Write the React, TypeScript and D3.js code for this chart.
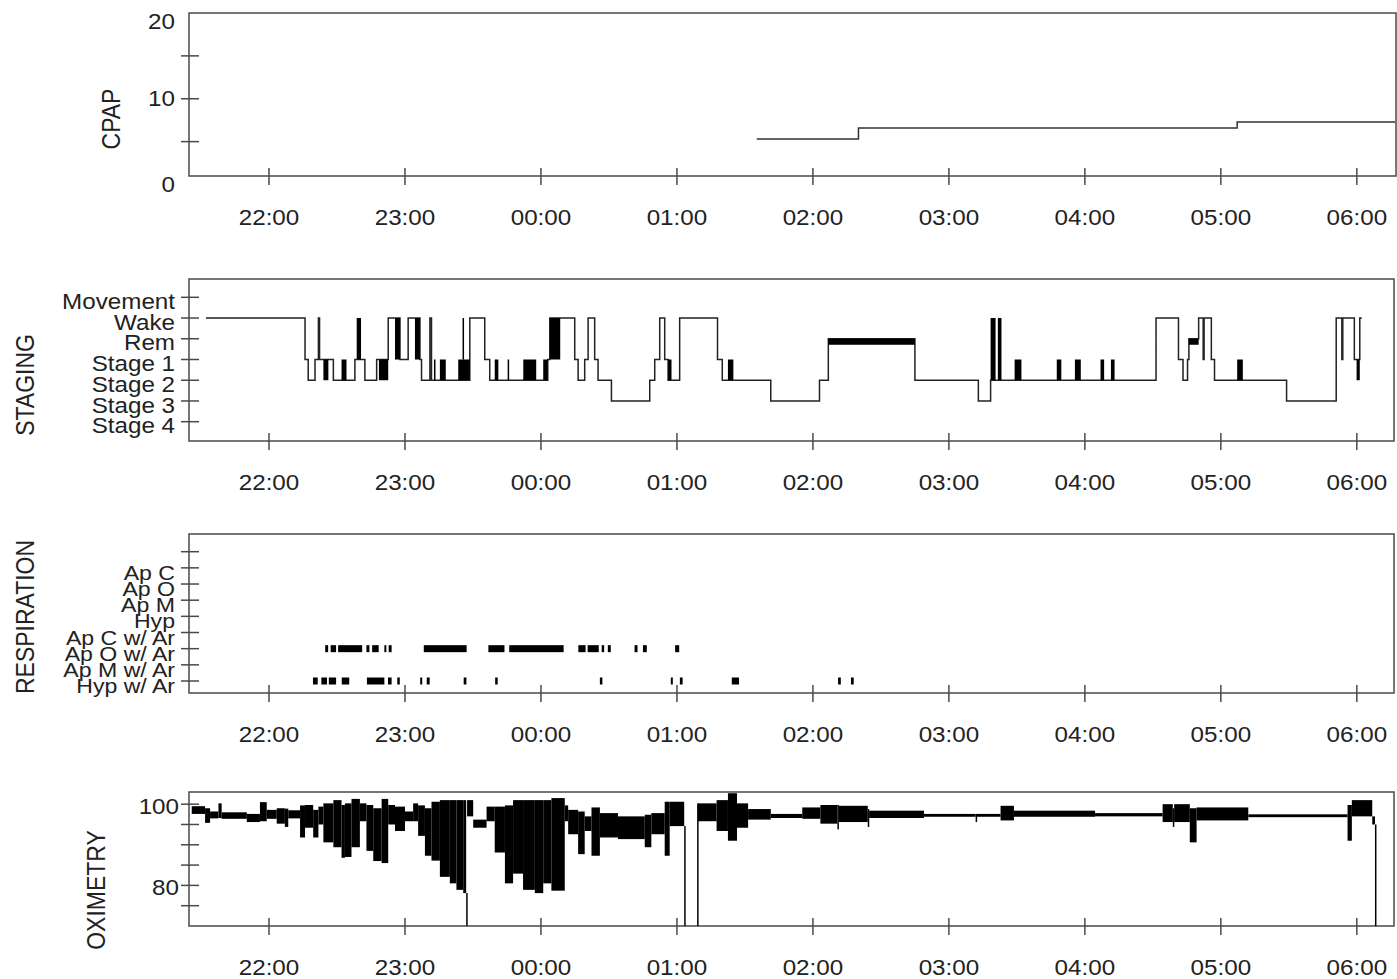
import React from 'react';
import * as d3 from 'd3';

// all times are minutes after 21:00
const startMin = 24.7;
const endMin = 556.4;

// CPAP pressure steps
const cpapTime = [275.2, 320.1, 487.2, 556.9];
const cpapValue = [5.3, 6.6, 7.3, 7.3];
const cpapTicks = [5, 10, 15];
const cpapLabels = [0, 10, 20];

// sleep staging
const stageNames = ['Movement', 'Wake', 'Rem', 'Stage 1', 'Stage 2', 'Stage 3', 'Stage 4'];
const stageTime = [
  32.2, 75.9, 77.3, 80.3, 81.8, 82.3, 88.4, 97.9, 102.3, 107.5, 112.6, 117.8, 121.4, 126.6, 127.3,
  131.0, 131.7, 148.6, 155.2, 157.4, 183.0, 183.9, 194.9, 196.4, 199.3, 200.8, 203.7, 205.2, 211.1,
  228.0, 230.2, 232.4, 234.6, 236.1, 241.2, 257.9, 260.0, 281.4, 302.9, 306.8, 345.0, 373.0, 378.4,
  451.4, 461.3, 463.3, 465.3, 465.9, 470.2, 472.2, 472.6, 475.8, 477.2, 509.0, 530.9, 533.4, 533.8,
  538.9, 541.3, 542.2,
];
const stageValue = [
  'Wake', 'Stage 1', 'Stage 2', 'Stage 1', 'Wake', 'Stage 1', 'Stage 2', 'Stage 1', 'Stage 2', 'Stage 1', 'Wake', 'Stage 1', 'Wake', 'Stage 1', 'Stage 2',
  'Wake', 'Stage 2', 'Wake', 'Stage 1', 'Stage 2', 'Stage 1', 'Wake', 'Stage 1', 'Stage 2', 'Stage 1', 'Wake', 'Stage 1', 'Stage 2', 'Stage 3',
  'Stage 2', 'Stage 1', 'Wake', 'Stage 1', 'Stage 2', 'Wake', 'Stage 1', 'Stage 2', 'Stage 3', 'Stage 2', 'Rem', 'Stage 2', 'Stage 3', 'Stage 2',
  'Wake', 'Stage 1', 'Stage 2', 'Stage 1', 'Rem', 'Wake', 'Stage 1', 'Wake', 'Stage 1', 'Stage 2', 'Stage 3', 'Wake', 'Stage 1', 'Wake',
  'Stage 1', 'Wake', 'Wake',
];
// fragmented stretches where the stage flips between two levels every epoch
const fragStart = [84.0, 92.0, 98.7, 108.5, 115.6, 124.4, 132.8, 135.4, 143.5, 145.4, 159.6, 165.3, 172.2, 181.0, 183.9, 236.1, 262.5, 306.8, 378.4, 381.6, 389.0, 407.6, 415.6, 426.9, 431.5, 465.9, 487.2, 539.9];
const fragEnd = [86.2, 94.2, 100.6, 112.6, 117.8, 126.6, 133.4, 138.0, 148.6, 145.9, 161.2, 165.9, 177.9, 183.0, 188.5, 237.6, 264.9, 345.0, 380.6, 383.2, 392.0, 409.6, 418.2, 428.5, 433.1, 470.2, 489.7, 541.3];
const fragTop = ['Stage 1', 'Stage 1', 'Wake', 'Stage 1', 'Wake', 'Wake', 'Stage 1', 'Stage 1', 'Stage 1', 'Wake', 'Stage 1', 'Stage 1', 'Stage 1', 'Stage 1', 'Wake', 'Stage 1', 'Stage 1', 'Rem', 'Wake', 'Wake', 'Stage 1', 'Stage 1', 'Stage 1', 'Stage 1', 'Stage 1', 'Rem', 'Stage 1', 'Stage 1'];
const fragBottom = ['Stage 2', 'Stage 2', 'Stage 1', 'Stage 2', 'Stage 1', 'Stage 1', 'Stage 2', 'Stage 2', 'Stage 2', 'Stage 1', 'Stage 2', 'Stage 2', 'Stage 2', 'Stage 2', 'Stage 1', 'Stage 2', 'Stage 2', 'Rem', 'Stage 2', 'Stage 2', 'Stage 2', 'Stage 2', 'Stage 2', 'Stage 2', 'Stage 2', 'Rem', 'Stage 2', 'Stage 2'];

// respiration events
const respNames = ['', 'Ap C', 'Ap O', 'Ap M', 'Hyp', 'Ap C w/ Ar', 'Ap O w/ Ar', 'Ap M w/ Ar', 'Hyp w/ Ar'];
const apOArStart = [84.8, 87.2, 90.5, 103.0, 105.5, 110.9, 112.8, 128.3, 156.8, 166.0, 196.5, 200.6, 206.8, 209.5, 221.3, 225.0, 239.2];
const apOArEnd = [86.1, 89.6, 101.1, 104.3, 108.4, 111.7, 114.1, 147.2, 163.9, 190.0, 199.7, 205.5, 207.9, 210.8, 222.6, 226.7, 241.0];
const hypArStart = [79.4, 83.1, 86.4, 92.1, 103.2, 112.5, 116.6, 126.7, 129.6, 145.9, 159.8, 206.0, 237.3, 241.3, 264.2, 311.1, 316.8];
const hypArEnd = [81.5, 85.6, 89.6, 95.4, 110.9, 114.1, 117.7, 127.6, 130.9, 147.1, 160.9, 207.1, 238.1, 242.5, 267.4, 312.3, 318.0];

// oximetry: per stretch, lowest and highest SpO2 of the trace (null = no signal)
const oxiTime = [
  25.9, 31.8, 34, 37.7, 39.1, 50.2, 56, 59, 63.4, 67, 68.5, 73.7, 75.9, 79.5, 81.8, 84, 88.4, 92, 93.5, 96.4,
  100.1, 103, 106, 109.7, 112.6, 115.6, 120, 123.6, 125.8, 128.8, 131.7, 135.4, 139.8, 142.7, 145.7, 147.0, 147.4,
  150.1, 156, 159.6, 164.1, 167.7, 172.1, 177.3, 181, 184.6, 190.5, 192, 196.4, 199.3, 202.3, 206, 214, 225.8,
  228.7, 234.6, 236.8, 243.2, 243.6, 248.9, 249.3, 257.5, 262.5, 266.5, 271.4, 281.4, 295.3, 303.3, 310.8, 311.4,
  324.2, 324.8, 349, 371.8, 372.4, 382.8, 388.7, 424.5, 454.3, 458.8, 459.4, 466.3, 469.3, 492.1, 535.9, 537.8,
  546.8, 548.0, 548.4,
];
const oxiLow = [
  97.6, 95.4, 96.5, 96.6, 96.4, 95.6, 95.8, 96.4, 95.2, 94.4, 96.5, 91.8, 94.2, 91.8, 95, 90.6, 89.4, 86.8, 87, 89.4,
  95.8, 88.5, 86, 85.5, 95, 93.4, 95.8, 95.8, 92.2, 87.3, 86.1, 82.1, 80.5, 78.9, 78.1, 70, 97,
  94.2, 95.8, 88.1, 80.5, 82.9, 78.9, 78.1, 80.5, 78.7, 95.8, 92.6, 87.7, 93.4, 87.3, 91.8, 91.4, 89.4,
  92.6, 87.3, 94.6, 70, null, 70, 95.8, 93.4, 91, 94.2, 96.2, 96.6, 96.4, 95.2, 93.8, 95.6,
  94.4, 96.6, 96.9, 95.6, 96.9, 96, 96.9, 97.0, 95.6, 94.4, 95.6, 90.6, 96, 96.8, 91, 97,
  95, 70,
];
const oxiHigh = [
  99.5, 99, 98.2, 100.2, 98.0, 97.6, 100.5, 98.6, 99, 98.9, 98.5, 99.7, 99.8, 98.6, 99.4, 100.2, 101, 99.8, 100.2, 101.3,
  100.2, 99.8, 99, 101.3, 99.8, 99.4, 98.2, 100.2, 99.7, 99, 100.6, 101, 101, 101, 101, 78.1, 101,
  96.2, 99.4, 99.4, 99.7, 101, 101, 101, 101, 101.5, 99.7, 98.6, 98.2, 97, 99.2, 97.8, 97, 97.4,
  97.8, 100.6, 100.6, 94.6, null, 100.2, 100.2, 101, 102.7, 100.2, 98.8, 97.6, 99.2, 99.8, 99.8, 99.6,
  98.8, 98.4, 97.6, 97.6, 97.6, 99.6, 98.4, 97.8, 100, 99, 100, 99, 99.2, 97.5, 99.8, 101,
  97, 95,
];
const oxiTicks = [75, 80, 85, 90, 95, 100];
const oxiLabels = [80, 100];

const FONT = '"Liberation Sans", Arial, Helvetica, sans-serif';
const INK = '#222';
const FRAME = '#4a4a4a';
const LEFT = 189;

const base = new Date(2000, 0, 1, 21, 0);
const toDate = (m: number) => new Date(base.getTime() + m * 60000);

const x = d3.scaleTime().domain([toDate(startMin), toDate(endMin)]).range([LEFT, 1394]);
const hours = x.ticks(d3.timeHour.every(1));
const fmt = d3.timeFormat('%H:%M');

const Label = ({ x, y, anchor = 'end', size = 22, children }: any) => (
  <text
    transform={`translate(${x},${y}) scale(1.1,1)`}
    textAnchor={anchor}
    dominantBaseline="central"
    fontSize={size}
    fill={INK}
  >
    {children}
  </text>
);

const Title = ({ x, y, children }: any) => (
  <text
    transform={`translate(${x},${y}) scale(1.1,1) rotate(-90)`}
    textAnchor="middle"
    dominantBaseline="central"
    fontSize={23}
    fill={INK}
  >
    {children}
  </text>
);

const Frame = ({ top, bottom, right = 1394 }: any) => (
  <g>
    <rect x={LEFT} y={top} width={right - LEFT} height={bottom - top} fill="none" stroke={FRAME} strokeWidth={1.5} />
    {hours.map((h, i) => (
      <g key={i}>
        <line x1={x(h)} x2={x(h)} y1={bottom - 8} y2={bottom + 9} stroke={FRAME} strokeWidth={1.5} />
        <Label x={x(h)} y={bottom + 41} anchor="middle">{fmt(h)}</Label>
      </g>
    ))}
  </g>
);

const YTick = ({ y }: any) => (
  <line x1={LEFT - 8} x2={LEFT + 10} y1={y} y2={y} stroke={FRAME} strokeWidth={1.5} />
);

const CpapPanel = () => {
  const top = 13, bottom = 176;
  const y = d3.scaleLinear().domain([0, 20]).range([184.5, 13]);
  const idx = d3.range(cpapTime.length);
  const line = d3.line<number>()
    .x(i => x(toDate(cpapTime[i])))
    .y(i => y(cpapValue[i]))
    .curve(d3.curveStepAfter);
  return (
    <g>
      <Frame top={top} bottom={bottom} right={1396} />
      {cpapTicks.map(t => <YTick key={t} y={y(t)} />)}
      {cpapLabels.map(t => (
        <Label key={t} x={175} y={Math.max(y(t), top + 8)}>{t}</Label>
      ))}
      <path d={line(idx) || ''} fill="none" stroke="#333" strokeWidth={1.5} />
      <Title x={111} y={119}>CPAP</Title>
    </g>
  );
};

const StagingPanel = () => {
  const top = 279, bottom = 441;
  const y = d3.scaleLinear().domain([0, 6]).range([297.3, 421.7]);
  const lvl = (s: string) => y(stageNames.indexOf(s));
  const idx = d3.range(stageTime.length);
  const line = d3.line<number>()
    .x(i => x(toDate(stageTime[i])))
    .y(i => lvl(stageValue[i]))
    .curve(d3.curveStepAfter);
  return (
    <g>
      <Frame top={top} bottom={bottom} />
      {stageNames.map((s, i) => (
        <g key={s}>
          <YTick y={y(i)} />
          <Label x={175} y={y(i) + 4}>{s}</Label>
        </g>
      ))}
      <path d={line(idx) || ''} fill="none" stroke="#222" strokeWidth={1.5} />
      {fragStart.map((s, i) => {
        const y0 = lvl(fragTop[i]);
        const y1 = Math.max(lvl(fragBottom[i]), y0 + 6);
        return (
          <rect key={i} x={x(toDate(s))} y={y0} width={Math.max(1.5, x(toDate(fragEnd[i])) - x(toDate(s)))} height={y1 - y0} fill="#000" />
        );
      })}
      <Title x={25} y={385}>STAGING</Title>
    </g>
  );
};

const RespPanel = () => {
  const top = 534, bottom = 693;
  const y = d3.scaleLinear().domain([0, 8]).range([551.7, 681]);
  const rows = [
    { row: 'Ap O w/ Ar', start: apOArStart, end: apOArEnd },
    { row: 'Hyp w/ Ar', start: hypArStart, end: hypArEnd },
  ];
  return (
    <g>
      <Frame top={top} bottom={bottom} />
      {respNames.map((s, i) => (
        <g key={i}>
          <YTick y={y(i)} />
          {s && <Label x={175} y={y(i) + 5} size={21}>{s}</Label>}
        </g>
      ))}
      {rows.map(r =>
        r.start.map((s, i) => {
          const cy = y(respNames.indexOf(r.row));
          return (
            <rect key={r.row + i} x={x(toDate(s))} y={cy - 3.5} width={Math.max(2, x(toDate(r.end[i])) - x(toDate(s)))} height={7} fill="#000" />
          );
        })
      )}
      <Title x={25} y={617}>RESPIRATION</Title>
    </g>
  );
};

const OxiPanel = () => {
  const top = 792, bottom = 926;
  const y = d3.scaleLinear().domain([70, 103]).range([bottom, top]);
  return (
    <g>
      <Frame top={top} bottom={bottom} />
      {oxiTicks.map(t => <YTick key={t} y={y(t)} />)}
      {oxiLabels.map(t => <Label key={t} x={179} y={y(t) + 2}>{t}</Label>)}
      {oxiTime.slice(0, -1).map((t, i) => {
        const lo = oxiLow[i], hi = oxiHigh[i];
        if (lo == null || hi == null) return null;
        const x0 = x(toDate(t));
        const x1 = x(toDate(oxiTime[i + 1]));
        const y0 = y(hi);
        const y1 = Math.max(y(lo), y0 + 2.5);
        return <rect key={i} x={x0} y={y0} width={Math.max(1.5, x1 - x0)} height={y1 - y0} fill="#000" />;
      })}
      <Title x={96} y={890}>OXIMETRY</Title>
    </g>
  );
};

export default function App() {
  return (
    <svg
      width={1397}
      height={979}
      style={{ position: 'absolute', left: 0, top: 0, background: '#fff' }}
      fontFamily={FONT}
    >
      <CpapPanel />
      <StagingPanel />
      <RespPanel />
      <OxiPanel />
    </svg>
  );
}
